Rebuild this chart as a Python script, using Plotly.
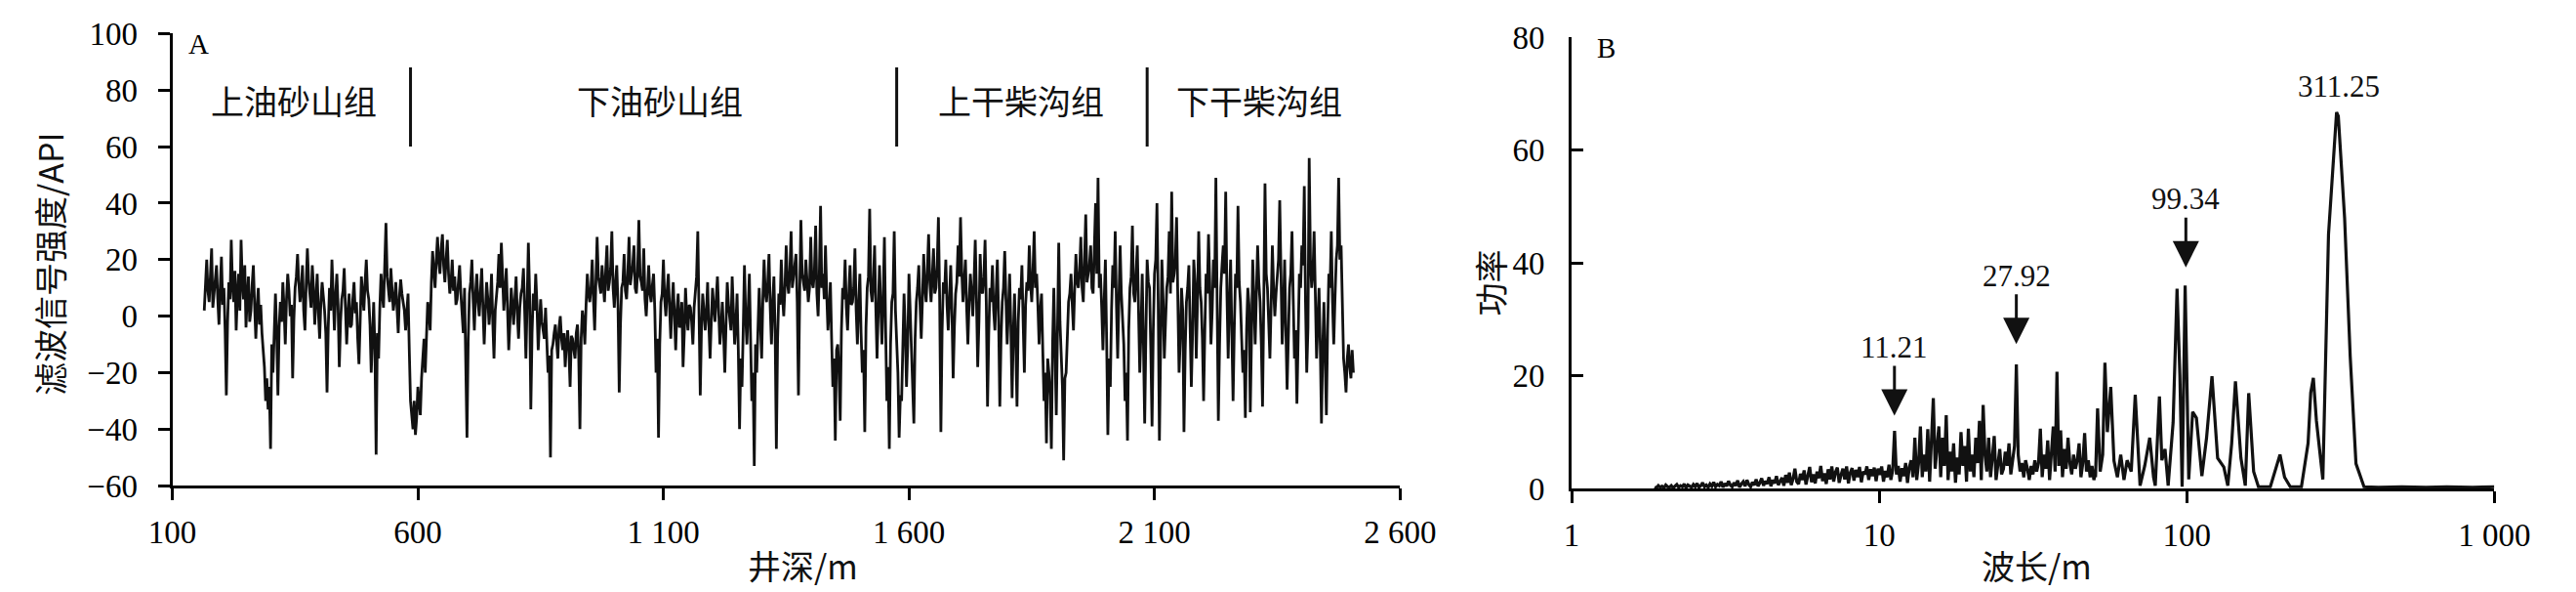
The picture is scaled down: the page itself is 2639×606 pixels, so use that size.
import numpy as np
import plotly.graph_objects as go

# ---------------- panel A: filtered signal vs well depth (2.5 m samples) ----------------
depth_start = 165
depth_step = 2.5

signal_upper_yss = [
    2, 12, 20, 9, 5, 14, 24, 3, 8, 15, 18, 6, -3, 10, 21, 4, 10, -5, -28, -2,
    12, 6, 27, 11, 5, 16, -5, 8, 15, 2, 27, 12, 6, 18, -4, 7, 14, -2, 2, 11,
    18, 4, -8, 3, 10, -3, 4, -6, -12, -18, -30, -22, -33, -25, -47, -10, -20, -5, 8, -6,
    -28, -4, 5, -2, 12, 3, -10, 6, 15, 9, 0, 4, -22, -1, 10, 14, 22, 12, 5, 9,
    18, 2, -5, 11, 24, 13, 8, 3, 18, 10, -3, 6, 15, 1, -8, 5, 12, 7, 2, -6,
    -27, -4, 10, 2, 20, 8, -5, 7, 15, 4, -18, -2, 6, 9, 17, 3, -10, 1, 8, -4,
    -3, 6, 12, 1, 5, -8, -17, -2, 14, 8, 2, 12, 20, 9, 6, -3, -20, -8, 5, -12,
    -49, -6, -15, 3, 15, 8, 3, 18, 33, 14, 10, 5, 17, 9, 2, 6, 12, 3, -6, 7,
    13, 8, 4, 2, -5, 1, 8, -12, -30, -35,
]
signal_lower_yss = [
    -40, -30, -42, -36, -25, -30, -35, -22, -15, -8, -20, -4, 5, 2, -5, 12, 23, 16, 10, 20,
    28, 19, 15, 24, 29, 18, 12, 20, 27, 15, 8, 12, 20, 9, 14, 4, 6, 12, 18, 8,
    2, -6, 10, -12, -43, -8, 8, 12, 20, 6, -5, 8, 15, 5, 0, 9, 17, 3, -10, 2,
    12, 6, -3, 4, 15, -2, -15, 2, 8, 12, 22, 10, 26, 13, 2, 9, 17, 3, -12, -2,
    10, 4, -3, 6, 14, 1, -8, 3, 8, 10, 17, 2, -15, 5, 26, 8, -33, -6, 8, 2,
    15, 4, -12, -3, 6, -2, -5, -8, 3, -10, -20, -14, -50, -12, -10, -6, -3, -9, -15, -4,
    0, -8, -12, -6, -18, -10, -5, -12, -25, -7, -8, -12, -15, -6, -3, -14, -40, -8, 2, -2,
    -10, 4, 15, 8, 5, 10, 20, 6, -5, 12, 28, 14, 10, 8, 18, 11, 5, 16, 25, 9,
    12, 17, 30, 10, 3, 12, 18, 4, -27, -3, 10, 12, 22, 9, 6, 15, 28, 11, 15, 18,
    25, 10, 8, 16, 34, 14, 12, 9, 24, 6, 0, 10, 18, 8, 5, 11, 15, 2, -20, -8,
    -43, -10, 5, 8, 20, 6, 0, 9, 15, 3, -8, 4, 12, 0, -12, 2, 8, -4, -3, 5,
    -18, -6, 10, 0, -5, 4, 3, -2, -10, 3, 10, 14, 30, 6, -28, -4, 8, 2, -5, 1,
    12, -3, -15, -2, 10, 3, -2, 6, 14, 2, -10, -4, 5, -6, -20, -3, 12, 4, 0, -5,
    14, 0, -10, -3, 8, -12, -40, -15, -25, -5, 18, 0, -10, 2, 15, -8, -30, -20, -53, -10,
    -20, -5, 10, -2, -15, 6, 20, 8, 5, 12, 22, 3, -10, 5, 14, -6, -47, -8, 8, 4,
    20, 7, 0, 10, 25, 12, 8, 16, 30, 10, 15, 18, 22, 5, -28, 8, 34, 15, 12, 9,
    20, 14, 5, 10, 28, 12, 10, 16, 32, 8, 0, 15, 39, 10, 15, 6, 25, 8, -5, 2,
    12, -8, -25, -15, -44, -12, -10, -20, -37, -5, 10, 6, 20, 3, -5, 8, 18, 4, 5, 10,
    24, 2, -10, 5, 15, -6, -20, -12, -41, -4, 10, 14, 38, 9, 5, 12, 25, 3, -15, 2,
    18, 4, -10, 6, 28, -5, -30, -18, -47, -10, 5, 8, 30, 2, -12, -20,
]
signal_upper_gcg = [
    -43, -28, -30, -12, 8, -5, -25, -10, 15, 2, -10, -20, -38, -8, 5, 10, 18, 4, -8, 6,
    22, 10, 5, 16, 29, 12, 5, 14, 24, 8, 10, 18, 35, 6, -41, -5, 12, 8, 20, 4,
    -5, 6, 18, 2, -22, -4, 8, 12, 25, 14, 35, 16, 5, 12, 20, 3, -10, 5, 15, 8,
    0, 12, 27, 6, -18, -2, 22, 9, 8, 14, 27, 4, -32, -6, 10, 5, 18, 2, -5, 8,
    20, 0, -32, -8, 5, 10, 23, 6, -10, 2, 15, -4, -29, -6, 8, -10, -32, -2, 10, 6,
    18, -2, -20, 4, 12, 9, 25, 12, 5, 16, 30, 10, 15, 4, -10, 2, 8, -12, -30, -20,
    -45, -15, -20, -28, -47, -10, 10, -12, -35, -5, 26, -2, -15, -25, -51, -22, -20, -6, 5, 8,
    15, 4, -5, 10, 22, 12, 10, 16, 28, 10, 5, 20, 36, 12, 15, 18, 25, 10, 8, 22,
    40, 15, 49, 10, 15, 3, -12, 5, 20, -8, -42, -15, -25, 2, 18, 10, 30, 4, -15, 6,
    25, 8, 0, -10, -30, -20, -44, -5, 10, 14, 32, 8, 5, 15, 25, 2, -20, -5, 15, -10,
    -38, -6, 20, 12,
]
signal_lower_gcg = [
    10, -12, -39, -5, 15, 20, 40, 5, -44, -10, 20, 6, -15, -2, 10, 14, 30, 8, 44, 12,
    15, 20, 35, 6, -20, -8, 10, 2, -41, -12, 5, 10, 18, -4, -25, -6, 20, 12, -15, 5,
    30, 10, 5, -8, -30, -5, 15, 8, 29, 12, -10, 2, 20, 10, 49, 5, -37, -10, 10, 18,
    25, 15, 44, 8, -15, 5, 20, -6, -30, -4, 15, 10, 39, 12, 5, -8, -20, -12, -36, -5,
    10, 4, -34, -8, 20, 6, -10, 8, 25, 12, 5, -10, -32, 5, 47, 15, 10, -2, -15, 4,
    25, 10, 0, 8, 15, 20, 41, 12, -10, 2, 20, -5, -26, -8, 10, 15, 30, 6, -15, -5,
    -31, -8, 15, 10, 25, 18, 46, 5, -20, -4, 56, 20, 10, 15, 30, 8, -15, -3, 10, -10,
    -38, -12, 5, -15, -35, -5, 15, 10, 30, 5, -10, 6, 20, 25, 49, 20, 25, 5, -15, -20,
    -27, -15, -10, -18, -22, -12, -20,
]

formation_names = ["上油砂山组", "下油砂山组", "上干柴沟组", "下干柴沟组"]
formation_label_depth = [347, 1092, 1829, 2314]
formation_boundaries = [585, 1575, 2085]

depth_ticks = [100, 600, 1100, 1600, 2100, 2600]
depth_ticktext = ["100", "600", "1 100", "1 600", "2 100", "2 600"]
api_ticks = [-60, -40, -20, 0, 20, 40, 60, 80, 100]
api_ticktext = ["−60", "−40", "−20", "0", "20", "40", "60", "80", "100"]

# ---------------- panel B: power spectrum vs wavelength ----------------
# short wavelengths, sampled on a log-spaced grid from 10^0.27 to 10^1.704 m
power_short = [
    0.3, 0.1, 0.5, 0.2, 0.4, 0.1, 0.6, 0.3, 0.2, 0.5, 0.1, 0.4, 0.7, 0.2, 0.5, 0.3, 0.8, 0.1,
    0.6, 0.4, 0.2, 0.7, 0.3, 0.9, 0.2, 0.5, 1.0, 0.3, 0.6, 0.2, 0.8, 0.4, 1.1, 0.3, 0.7,
    0.5, 1.2, 0.2, 0.9, 0.4, 1.3, 0.6, 0.3, 1.0, 0.5, 1.4, 0.2, 0.8, 1.2, 0.4, 1.5, 0.7, 0.3,
    1.1, 0.6, 1.6, 0.4, 1.0, 1.8, 0.5, 1.3, 0.8, 2.0, 0.4, 1.5, 0.9, 2.2, 0.6, 1.2, 1.9, 0.5, 2.4,
    1.0, 2.8, 0.6, 1.7, 3.5, 1.2, 0.8, 2.6, 1.5, 3.2, 0.7, 2.0, 3.8, 1.1, 2.5, 0.9, 3.0, 1.8,
    4.0, 1.3, 2.7, 0.8, 3.4, 1.6, 3.9,
    1.2, 2.9, 3.7, 1.0, 2.4, 3.5, 1.6, 3.9, 0.9, 2.8, 3.6, 1.4, 3.3, 2.0, 3.8, 1.1, 3.0, 2.5,
    3.9, 1.5, 3.4, 2.2, 3.7, 1.3, 3.5,
    2.4, 3.9, 1.2, 3.1, 2.0, 4.2, 1.5, 3.3,
    10.2,
    2.5, 4.0, 1.2, 3.6, 2.2, 4.5, 1.0, 3.8, 5.0, 2.0,
    9.0, 1.5, 4.5, 11.0, 2.0, 6.0, 3.0, 10.5, 1.2, 8.0, 16.0, 3.5, 7.0, 11.0, 2.0, 9.0, 4.0,
    13.0, 1.5, 6.5,
    3.0, 8.0, 1.0, 5.5, 2.5, 10.0, 4.0, 7.5, 1.2, 10.6, 3.0, 6.0, 2.0, 9.0, 4.5, 12.0, 1.5,
    14.8, 6.0, 3.0, 9.0, 2.0, 5.5, 9.3, 1.5, 4.0, 7.0, 2.5,
    3.5, 6.5, 4.0, 8.0, 2.5, 5.0, 7.5,
    22.0,
    6.0, 3.0, 4.5, 2.0, 5.0, 3.5, 1.5, 4.0, 2.5, 5.0, 3.0, 4.5, 10.6, 2.0, 6.0, 3.5, 8.5, 1.5,
    5.5, 11.0, 3.0, 20.7, 4.0, 10.3, 2.0, 7.0, 3.5, 9.0, 4.5, 2.5, 6.0, 3.5, 5.0, 8.0, 2.0,
    4.5, 9.8, 3.0, 5.0, 2.0, 4.0, 1.5, 3.0,
]
# long wavelengths, individual peaks
wavelength_long = [
    50.5, 51.3, 52.3, 53.3, 54.2, 55.2, 56.6, 58.0, 59.5, 61, 62.5, 64, 66, 68, 70.5, 73,
    75.8, 78, 79, 81.5, 83, 85, 87, 90.3, 93, 95, 96.6, 98.8, 101.5, 104.5, 107.5, 112,
    116, 120.8, 126, 132, 136, 140, 144, 150, 155, 159, 165, 171, 187, 194, 201, 208, 217,
    236, 248, 253, 258, 264, 277, 289, 307, 311, 326, 340, 355, 377, 420, 500, 600, 700,
    850, 1000,
]
power_long = [
    2.0, 14.2, 3.0, 6.0, 22.3, 10.0, 18.0, 4.9, 2.0, 6.0, 1.5, 5.0, 3.0, 16.6, 0.5, 4.0,
    9.0, 2.0, 0.5, 16.3, 5.0, 7.0, 0.5, 11.7, 35.4, 20.0, 0.3, 36.0, 1.6, 13.6, 12.5, 2.2,
    9.0, 19.9, 5.4, 3.8, 0.5, 8.0, 19.0, 5.4, 0.5, 16.9, 3.0, 0.3, 0.3, 3.0, 6.0, 2.0, 0.3,
    0.3, 8.0, 17.0, 19.6, 12.0, 1.6, 45.0, 66.7, 66.0, 48.0, 23.4, 4.4, 0.3, 0.2, 0.3, 0.2,
    0.3, 0.2, 0.3,
]
peak_labels = ["11.21", "27.92", "99.34"]
peak_wavelength = [11.21, 27.92, 99.34]
peak_tip_power = [11.7, 24.4, 38.0]
main_peak_label = "311.25"

wl_ticks = [1, 10, 100, 1000]
wl_ticktext = ["1", "10", "100", "1 000"]
pow_ticks = [0, 20, 40, 60, 80]

# ---------------- assemble ----------------
signal = np.array(signal_upper_yss + signal_lower_yss + signal_upper_gcg + signal_lower_gcg)
depth = depth_start + depth_step * np.arange(len(signal))

wl_short = np.logspace(0.27, 1.704, len(power_short))
wavelength = np.concatenate([wl_short, wavelength_long])
power = np.array(power_short + power_long)

W, H = 2639, 606
serif = "Liberation Serif, Noto Sans CJK SC"
cjk = "Noto Sans CJK SC, Liberation Serif"
tickfont = dict(family=serif, size=33, color="black")

fig = go.Figure()
fig.add_trace(go.Scatter(x=depth, y=signal, mode="lines",
                         line=dict(color="#111111", width=2.8),
                         xaxis="x", yaxis="y", showlegend=False))
fig.add_trace(go.Scatter(x=wavelength, y=power, mode="lines",
                         line=dict(color="#111111", width=3.2),
                         xaxis="x2", yaxis="y2", showlegend=False))

axis_common = dict(showline=True, linecolor="black", linewidth=3,
                   ticklen=12, tickwidth=3, tickcolor="black", showgrid=False,
                   zeroline=False, tickfont=tickfont, ticklabeloverflow="allow")

fig.update_layout(
    width=W, height=H,
    margin=dict(l=0, r=0, t=0, b=0),
    paper_bgcolor="white", plot_bgcolor="white",
    xaxis=dict(domain=[147 / W, 1435 / W], range=[100, 2600], anchor="y", ticks="outside",
               ticklabelstandoff=4,
               tickmode="array", tickvals=depth_ticks, ticktext=depth_ticktext, **axis_common),
    yaxis=dict(domain=[1 - 502 / H, 1 - 10 / H], range=[-60, 100], anchor="x", ticks="outside",
               ticklabelstandoff=14,
               tickmode="array", tickvals=api_ticks, ticktext=api_ticktext, **axis_common),
    xaxis2=dict(domain=[1615 / W, 2583 / W], type="log", range=[0, 3], anchor="y2",
                ticks="outside", ticklabelstandoff=4,
                tickmode="array", tickvals=wl_ticks, ticktext=wl_ticktext, **axis_common),
    yaxis2=dict(domain=[1 - 505 / H, 1 - 14 / H], range=[0, 80], anchor="x2",
                ticks="inside", ticklabelstandoff=18,
                tickmode="array", tickvals=pow_ticks, **axis_common),
)

# formation boundaries and names
for b in formation_boundaries:
    fig.add_shape(type="line", xref="x", yref="y", x0=b, x1=b, y0=60, y1=88,
                  line=dict(color="#111111", width=3))
for name, d in zip(formation_names, formation_label_depth):
    fig.add_annotation(x=d, y=76.5, xref="x", yref="y", text=name, showarrow=False,
                       xanchor="center", yanchor="middle",
                       font=dict(family=cjk, size=34, color="#111111"))

# peak arrows and labels
for lab, wl, tip in zip(peak_labels, peak_wavelength, peak_tip_power):
    fig.add_annotation(x=np.log10(wl), y=tip, xref="x2", yref="y2", text=lab,
                       showarrow=True, arrowhead=2, arrowsize=1.8, arrowwidth=3,
                       arrowcolor="#111111", ax=0, ay=-77, standoff=7,
                       font=dict(family=serif, size=31, color="#111111"))
fig.add_annotation(x=np.log10(311.25), y=71.2, xref="x2", yref="y2", text=main_peak_label,
                   showarrow=False, xanchor="center", yanchor="middle",
                   font=dict(family=serif, size=31, color="#111111"))


def paper_text(px, py, text, font, angle=0):
    fig.add_annotation(x=px / W, y=1 - py / H, xref="paper", yref="paper", text=text,
                       textangle=angle, showarrow=False, xanchor="center", yanchor="middle",
                       font=font)


serif_font = dict(family=serif, size=29, color="black")
cjk_font = dict(family=cjk, size=34, color="#111111")

# panel letters
paper_text(175, 21, "A", serif_font)
paper_text(1651, 25, "B", serif_font)

# axis titles
paper_text(18, 261, "滤波信号强度/API", cjk_font, angle=-90)
paper_text(1529, 281, "功率", cjk_font, angle=-90)
paper_text(809, 588, "井深/m", cjk_font)
paper_text(2103, 588, "波长/m", cjk_font)

fig.write_html("out.html")
